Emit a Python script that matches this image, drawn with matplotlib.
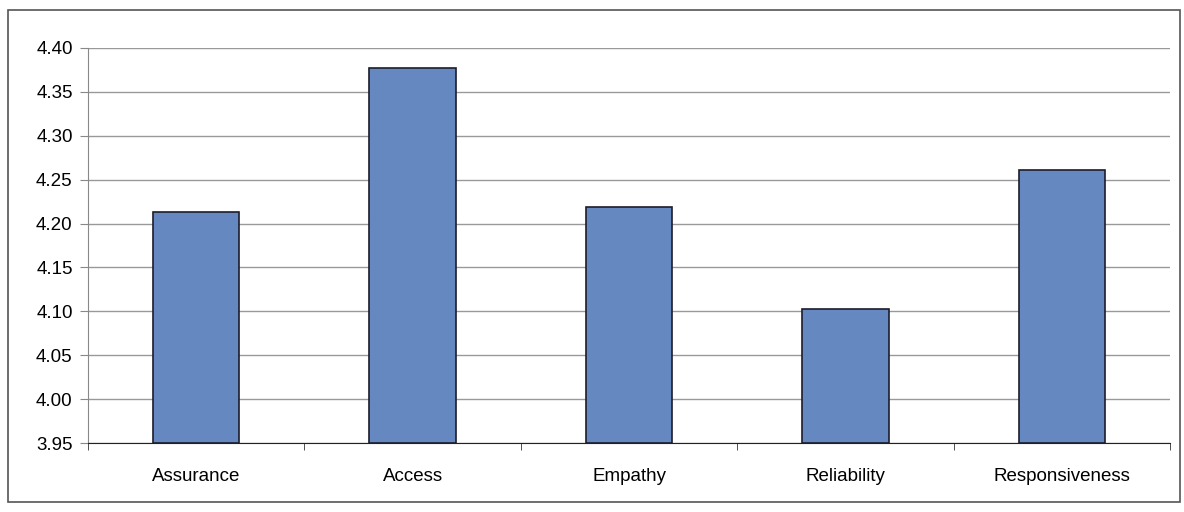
import matplotlib.pyplot as plt
from matplotlib.patches import Rectangle
import numpy as np

plt.rcParams['font.family'] = ['Liberation Sans', 'DejaVu Sans']

categories = ['Assurance', 'Access', 'Empathy', 'Reliability', 'Responsiveness']
scores = [4.213, 4.377, 4.219, 4.103, 4.261]
yticks = [3.95, 4.00, 4.05, 4.10, 4.15, 4.20, 4.25, 4.30, 4.35, 4.40]

fig = plt.figure(figsize=(11.84, 5.12), dpi=100)
# outer chart frame
fig.patches.append(Rectangle((8/1184, 10/512), 1172/1184, 492/512, transform=fig.transFigure,
                             fill=False, edgecolor='#555555', linewidth=1.2))
ax = fig.add_axes([88/1184, 1 - 443/512, 1082/1184, 395/512])

x = np.arange(len(categories))
ax.bar(x, [s - 3.95 for s in scores], bottom=3.95, width=0.4, color='#6688c0',
       edgecolor='#1c1c2c', linewidth=1.2, zorder=3)

ax.set_xlim(-0.5, len(categories) - 0.5)
ax.set_ylim(3.95, 4.40)
ax.set_yticks(yticks)
ax.set_yticklabels(['%.2f' % t for t in yticks], fontsize=13.5)
ax.yaxis.grid(True, color='#999999', linewidth=1, zorder=0)

ax.set_xticks(x)
ax.set_xticklabels(categories, fontsize=13.5)
ax.tick_params(axis='x', length=0, pad=18)
ax.set_xticks(np.arange(-0.5, len(categories)), minor=True)
ax.tick_params(axis='x', which='minor', length=5, color='#333333')
ax.tick_params(axis='y', length=6, color='#888888', pad=5)

for s in ['top', 'right']:
    ax.spines[s].set_visible(False)
ax.spines['left'].set_color('#888888')
ax.spines['bottom'].set_color('#222222')

plt.savefig('out.png', dpi=100)
